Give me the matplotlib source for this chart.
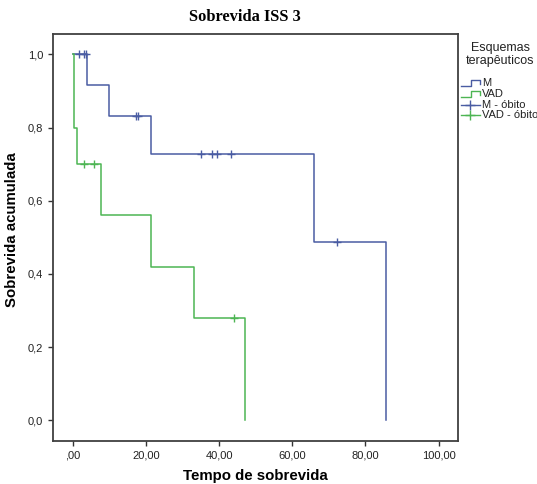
import numpy as np
import matplotlib
matplotlib.use("Agg")
import matplotlib.pyplot as plt

# Kaplan-Meier steps (time, cumulative survival)
m_times = [0.0, 4.0, 9.8, 21.5, 65.8, 85.6]
m_surv = [1.0, 0.917, 0.833, 0.729, 0.486, 0.0]
m_cens = [1.8, 3.1, 3.6, 17.4, 17.9, 35.0, 38.1, 39.3, 43.3, 72.1]

vad_times = [0.0, 0.2, 0.45, 1.25, 7.8, 21.3, 33.1, 47.2]
vad_surv = [1.0, 0.9, 0.8, 0.7, 0.56, 0.42, 0.28, 0.0]
vad_cens = [3.1, 5.8, 44.0]

x_ticks = [0, 20, 40, 60, 80, 100]
x_labels = [",00", "20,00", "40,00", "60,00", "80,00", "100,00"]
y_ticks = [0.0, 0.2, 0.4, 0.6, 0.8, 1.0]
y_labels = ["0,0", "0,2", "0,4", "0,6", "0,8", "1,0"]

series = [
    ("M", m_times, m_surv, m_cens, "#4a5ca3"),
    ("VAD", vad_times, vad_surv, vad_cens, "#4db553"),
]

W, H = 537, 484
fig = plt.figure(figsize=(W / 100, H / 100), dpi=100)
fig.patch.set_facecolor("white")

ax = fig.add_axes([52.7 / W, 1 - 441 / H, (458 - 52.7) / W, (441 - 34) / H])


def surv_at(times, surv, t):
    i = np.searchsorted(times, t, side="right") - 1
    return np.asarray(surv)[i]


for name, t, s, c, col in series:
    ax.step(t, s, where="post", color=col, lw=1.1)
    ax.plot(c, surv_at(t, s, c), ls="none", marker="+", ms=6, mew=1.0, color=col)

ax.set_xlim(-5.5, 105.3)
ax.set_ylim(-0.057, 1.056)
ax.set_xticks(x_ticks)
ax.set_xticklabels(x_labels)
ax.set_yticks(y_ticks)
ax.set_yticklabels(y_labels)
ax.tick_params(direction="out", length=3.5, width=1.0, color="#333333",
               labelsize=8, labelcolor="#222222")
for lab in ax.get_xticklabels() + ax.get_yticklabels():
    lab.set_family("Liberation Sans")
for sp in ax.spines.values():
    sp.set_color("#404040")
    sp.set_linewidth(1.3)

ax.set_xlabel("Tempo de sobrevida", family="Liberation Sans", fontweight="bold",
              fontsize=10.8, labelpad=6)
ax.set_ylabel("Sobrevida acumulada", family="Liberation Sans", fontweight="bold",
              fontsize=10.8, labelpad=7)
ax.yaxis.set_label_coords(-0.083, 0.52)

fig.text(245 / W, 1 - 17 / H, "Sobrevida ISS 3", family="Liberation Serif",
         fontweight="bold", fontsize=11.8, ha="center", va="center")

# legend drawn by hand, in pixel coords
lax = fig.add_axes([0, 0, 1, 1], zorder=-1)
lax.set_xlim(0, W)
lax.set_ylim(H, 0)
lax.axis("off")
lax.text(500, 48, "Esquemas", ha="center", va="center", fontsize=9,
         family="Liberation Sans", color="#222222")
lax.text(500, 61, "terapêuticos", ha="center", va="center", fontsize=9,
         family="Liberation Sans", color="#222222")
rows = [83, 94, 104.5, 115]
for (name, t, s, c, col), y in zip(series, rows[:2]):
    lax.plot([461, 471, 471, 480, 480], [y + 3, y + 3, y - 3, y - 3, y + 1],
             color=col, lw=1.0)
    lax.text(482, y, name, va="center", fontsize=8, family="Liberation Sans",
             color="#222222")
for (name, t, s, c, col), y in zip(series, rows[2:]):
    lax.plot([461, 480], [y, y], color=col, lw=1.0)
    lax.plot([470], [y], marker="+", ms=7, mew=1.0, color=col)
    lax.text(482, y, name + " - óbito", va="center", fontsize=8,
             family="Liberation Sans", color="#222222")

fig.savefig("out.png", dpi=100)
